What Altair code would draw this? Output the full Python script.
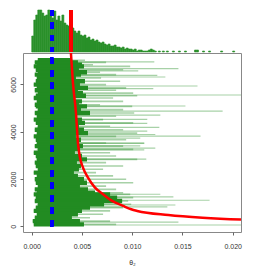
import altair as alt
import pandas as pd

# ---- histogram (bin start, height) ----
hist_start = [0.0000, 0.0002, 0.0004, 0.0006, 0.0008, 0.0010, 0.0012, 0.0014, 0.0016, 0.0018,
              0.0020, 0.0022, 0.0024, 0.0026, 0.0028, 0.0030, 0.0032, 0.0034, 0.0036, 0.0038,
              0.0040, 0.0042, 0.0044, 0.0046, 0.0048, 0.0050, 0.0052, 0.0054, 0.0056, 0.0058,
              0.0060, 0.0062, 0.0064, 0.0066, 0.0068, 0.0070, 0.0072, 0.0074, 0.0076, 0.0078,
              0.0080, 0.0082, 0.0084, 0.0086, 0.0088, 0.0090, 0.0092, 0.0094, 0.0096, 0.0098,
              0.0100, 0.0102, 0.0104, 0.0106, 0.0108, 0.0110, 0.0112, 0.0114, 0.0116, 0.0118,
              0.0120, 0.0122, 0.0126, 0.0130, 0.0134, 0.0140, 0.0146, 0.0152, 0.0162, 0.0164,
              0.0170, 0.0176, 0.0188, 0.0200]
hist_height = [16, 32, 37, 49, 52, 39, 36, 37, 44, 39,
               34, 41, 32, 36, 31, 37, 29, 27, 26, 22,
               24, 21, 19, 21, 17, 16, 17, 14, 15, 12,
               13, 11, 12, 10, 9, 10, 8, 7, 8, 6,
               6, 7, 5, 5, 4, 5, 3, 4, 3, 3,
               2, 3, 1, 2, 2, 1, 1, 1, 2, 3,
               2, 1, 1, 1, 1, 1, 1, 1, 2, 2,
               1, 1, 1, 1]
bin_width = 0.0002

# ---- trace rows (iteration, left edge, dense core end, light reach) ----
row_iter = [7020, 6930, 6830, 6760, 6620, 6510, 6410, 6270, 6130, 5990, 5850, 5750, 5630, 5520,
            5420, 5280, 5140, 5070, 4930, 4790, 4650, 4510, 4370, 4230, 4080, 3940, 3800, 3660,
            3520, 3390, 3250, 3110, 2970, 2830, 2690, 2550, 2410, 2270, 2130, 1990, 1840, 1700,
            1560, 1420, 1350, 1210, 1070, 930, 790, 650, 510, 360, 220, 80]
row_start = [0.0006, 0.0003, 0.0005, 0.0002, 0.0004, 0.0006, 0.0003, 0.0005, 0.0004, 0.0002,
             0.0005, 0.0003, 0.0006, 0.0004, 0.0002, 0.0005, 0.0003, 0.0004, 0.0006, 0.0003,
             0.0005, 0.0002, 0.0004, 0.0006, 0.0003, 0.0005, 0.0002, 0.0004, 0.0005, 0.0003,
             0.0006, 0.0002, 0.0004, 0.0005, 0.0003, 0.0004, 0.0006, 0.0002, 0.0005, 0.0003,
             0.0004, 0.0006, 0.0003, 0.0005, 0.0002, 0.0004, 0.0003, 0.0006, 0.0004, 0.0002,
             0.0005, 0.0003, 0.0001, 0.0002]
row_core = [0.0040, 0.0046, 0.0050, 0.0052, 0.0047, 0.0055, 0.0049, 0.0044, 0.0053, 0.0048,
            0.0056, 0.0046, 0.0051, 0.0054, 0.0043, 0.0050, 0.0047, 0.0055, 0.0049, 0.0058,
            0.0045, 0.0050, 0.0053, 0.0047, 0.0052, 0.0056, 0.0044, 0.0049, 0.0046, 0.0051,
            0.0048, 0.0043, 0.0050, 0.0055, 0.0045, 0.0049, 0.0047, 0.0042, 0.0046, 0.0052,
            0.0055, 0.0048, 0.0056, 0.0063, 0.0078, 0.0085, 0.0090, 0.0072, 0.0058, 0.0050,
            0.0046, 0.0040, 0.0048, 0.0052]
row_reach = [0.0053, 0.0074, 0.0061, 0.0098, 0.0091, 0.0068, 0.0084, 0.0069, 0.0088, 0.0074,
             0.0094, 0.0084, 0.0101, 0.0105, 0.0081, 0.0091, 0.0068, 0.0100, 0.0091, 0.0102,
             0.0084, 0.0071, 0.0101, 0.0078, 0.0091, 0.0105, 0.0084, 0.0094, 0.0074, 0.0091,
             0.0101, 0.0078, 0.0084, 0.0105, 0.0074, 0.0091, 0.0071, 0.0064, 0.0081, 0.0094,
             0.0101, 0.0074, 0.0084, 0.0091, 0.0098, 0.0101, 0.0096, 0.0099, 0.0091, 0.0078,
             0.0071, 0.0058, 0.0078, 0.0084]

# ---- long excursions (iteration, value) ----
out_iter = [6950, 6665, 6570, 6380, 6310, 5930, 5820, 5550, 5085, 4870, 4700, 4520, 4350, 4180,
            4025, 3880, 3815, 3730, 3530, 3500, 3400, 3305, 3233, 2840, 1355, 1240, 1100, 900,
            820, 180, 55]
out_val = [0.0122, 0.0146, 0.0106, 0.0125, 0.0133, 0.0165, 0.0121, 0.0225, 0.0153, 0.0190,
           0.0128, 0.0115, 0.0115, 0.0127, 0.0115, 0.0123, 0.0168, 0.0108, 0.0112, 0.0112,
           0.0108, 0.0123, 0.0112, 0.0114, 0.0128, 0.0141, 0.0177, 0.0143, 0.0135, 0.0146,
           0.0225]
out_start = 0.0005

# ---- running mean (red) ----
red_iter = [250, 280, 364, 479, 650, 720, 860, 1072, 1356, 1636, 2060, 2483, 2907, 3530, 4800,
            6072, 7325]
red_val = [0.0232, 0.0210, 0.0170, 0.0136, 0.0105, 0.0099, 0.0091, 0.0080, 0.0071, 0.0063,
           0.0056, 0.0051, 0.0048, 0.0046, 0.0044, 0.0041, 0.0039]

true_val = 0.002      # blue dashed
mean_val = 0.0039     # red vertical in histogram

x_ticks = [0.0, 0.005, 0.010, 0.015, 0.020]
y_ticks = [0, 1000, 2000, 3000, 4000, 5000, 6000, 7000]

XDOM = [-0.00087, 0.02083]
YDOM = [-241, 7325]
W = 218
HH = 42
GREEN = "#228B22"
FONT = "Liberation Sans"

hist_df = pd.DataFrame({"x0": hist_start, "h": hist_height})
hist_df["x1"] = hist_df["x0"] + bin_width
rows_df = pd.DataFrame({"it": row_iter, "s": row_start, "c": row_core, "r": row_reach})
out_df = pd.DataFrame({"it": out_iter, "v": out_val})
out_df["s"] = out_start
red_df = pd.DataFrame({"it": red_iter, "v": red_val})

xs = alt.Scale(domain=XDOM, nice=False, zero=False)
ys = alt.Scale(domain=YDOM, nice=False, zero=False)

hbars = alt.Chart(hist_df).mark_rect(color="#2a902a", stroke="#2a902a", strokeWidth=0.6).encode(
    x=alt.X("x0:Q", scale=xs, axis=None),
    x2="x1:Q",
    y=alt.Y("h:Q", scale=alt.Scale(domain=[0, HH], nice=False, clamp=True), axis=None),
    y2=alt.datum(0),
)
hred = alt.Chart(hist_df).mark_rule(color="#ff0000", strokeWidth=2.3).encode(
    x=alt.datum(mean_val), y=alt.value(0), y2=alt.value(HH))
hblue = alt.Chart(hist_df).mark_rule(color="#0000ff", strokeWidth=2.5, strokeDash=[6, 6.5]).encode(
    x=alt.datum(true_val), y=alt.value(0), y2=alt.value(HH))
hist = alt.layer(hbars, hred, hblue).properties(
    width=W, height=HH, view=alt.ViewBackground(stroke="transparent"))

xaxis = alt.Axis(values=x_ticks, format=".3f", title="θ₂", labelFontSize=7, titleFontSize=7,
                 titleFontWeight="normal", tickSize=3, domain=False, grid=False,
                 labelPadding=7, titlePadding=9, tickColor="#666", labelColor="#333",
                 titleColor="#333", labelFont=FONT, titleFont=FONT, labelOverlap=False)
yaxis = alt.Axis(values=y_ticks, format="d", title=None, labelFontSize=7, labelAngle=270,
                 tickSize=3, domain=False, grid=False, labelPadding=4, tickColor="#666",
                 labelColor="#333", labelFont=FONT, labelOverlap=False)

core = alt.Chart(rows_df).mark_rule(color=GREEN, strokeWidth=4.4, clip=True).encode(
    x=alt.X("s:Q", scale=xs, axis=xaxis), x2="c:Q",
    y=alt.Y("it:Q", scale=ys, axis=yaxis))
light = alt.Chart(rows_df).mark_rule(color=GREEN, opacity=0.4, strokeWidth=1.6, clip=True).encode(
    x="s:Q", x2="r:Q", y="it:Q")
outl = alt.Chart(out_df).mark_rule(color=GREEN, opacity=0.4, strokeWidth=1.2, clip=True).encode(
    x="s:Q", x2="v:Q", y="it:Q")
blue = alt.Chart(rows_df).mark_rule(color="#0000ff", strokeWidth=2.5, strokeDash=[6, 6.5]).encode(
    x=alt.datum(true_val), y=alt.datum(0), y2=alt.value(0))
red = alt.Chart(red_df).mark_line(color="#ff0000", strokeWidth=2.5, clip=True,
                                  interpolate="monotone").encode(
    x="v:Q", y="it:Q", order="it:Q")

main = alt.layer(core, light, outl, blue, red).properties(
    width=W, height=179, view=alt.ViewBackground(stroke="#888", strokeWidth=1))

chart = alt.vconcat(hist, main, spacing=1, bounds="flush").properties(
    padding={"left": 0, "top": 0, "right": 4, "bottom": 4},
    background="white")

chart.save("out.html", embed_options={"renderer": "svg", "actions": False})
